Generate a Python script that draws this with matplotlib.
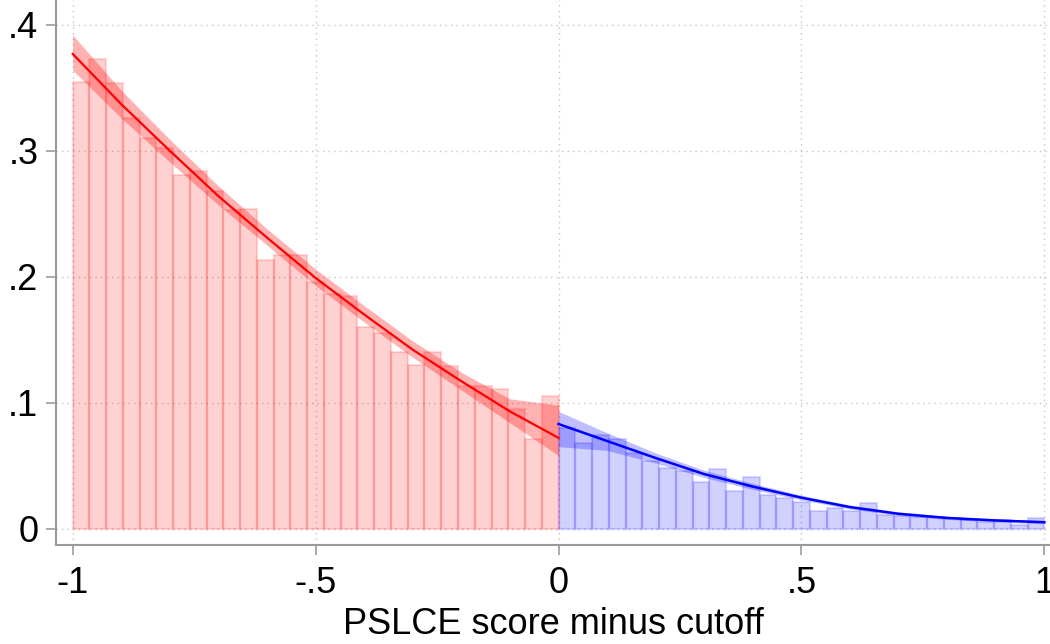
import numpy as np
import matplotlib
matplotlib.use("Agg")
import matplotlib.pyplot as plt

# ---------------- data ----------------
n_bins = 29
bin_width = 1.0 / n_bins

left_heights = [0.355, 0.373, 0.354, 0.326, 0.310, 0.302, 0.281, 0.284, 0.268, 0.253,
                0.254, 0.213, 0.217, 0.217, 0.196, 0.186, 0.185, 0.160, 0.155, 0.140,
                0.130, 0.140, 0.129, 0.113, 0.113, 0.111, 0.095, 0.071, 0.105]
right_heights = [0.080, 0.068, 0.074, 0.071, 0.060, 0.054, 0.048, 0.046, 0.037, 0.047,
                 0.030, 0.041, 0.027, 0.024, 0.021, 0.014, 0.016, 0.014, 0.020, 0.011,
                 0.010, 0.009, 0.009, 0.008, 0.007, 0.005, 0.007, 0.003, 0.008]

fit_x_left = [-1.0, -0.9, -0.8, -0.7, -0.6, -0.5, -0.4, -0.3, -0.2, -0.1, 0.0]
fit_left = [0.377, 0.337, 0.300, 0.264, 0.231, 0.199, 0.170, 0.142, 0.117, 0.093, 0.072]
ci_low_left = [0.364, 0.326, 0.291, 0.257, 0.225, 0.193, 0.164, 0.136, 0.110, 0.084, 0.058]
ci_high_left = [0.392, 0.348, 0.309, 0.272, 0.238, 0.206, 0.177, 0.149, 0.124, 0.103, 0.098]

fit_x_right = [0.0, 0.1, 0.2, 0.3, 0.4, 0.5, 0.6, 0.7, 0.8, 0.9, 1.0]
fit_right = [0.083, 0.0695, 0.056, 0.0432, 0.0333, 0.0245, 0.0170, 0.0117, 0.0084, 0.0064, 0.005]
ci_low_right = [0.065, 0.062, 0.052, 0.0405, 0.031, 0.0228, 0.0155, 0.0104, 0.0072, 0.0052, 0.0038]
ci_high_right = [0.093, 0.076, 0.060, 0.0462, 0.0358, 0.0264, 0.0186, 0.0131, 0.0097, 0.0077, 0.0064]

x_ticks = [-1, -0.5, 0, 0.5, 1]
x_tick_labels = ["-1", "-.5", "0", ".5", "1"]
y_ticks = [0, 0.1, 0.2, 0.3, 0.4]
y_tick_labels = ["0", ".1", ".2", ".3", ".4"]
x_label = "PSLCE score minus cutoff"

# ---------------- figure ----------------
plt.rcParams["font.family"] = ["Liberation Sans", "DejaVu Sans"]
fig = plt.figure(figsize=(10.5, 6.44), dpi=100)
W, H = 1050, 644
ax = fig.add_axes([56 / W, 1 - 545 / H, (W - 56) / W, 545 / H])

left_edges = -1 + np.arange(n_bins) * bin_width
right_edges = np.arange(n_bins) * bin_width

red = (1, 0, 0)
blue = (0, 0, 1)

ax.bar(left_edges, left_heights, width=bin_width, align="edge",
       color=red + (0.18,), edgecolor=red + (0.14,), linewidth=1.6, zorder=2)
ax.bar(right_edges, right_heights, width=bin_width, align="edge",
       color=blue + (0.18,), edgecolor=blue + (0.14,), linewidth=1.6, zorder=2)

ax.fill_between(fit_x_left, ci_low_left, ci_high_left, color=red, alpha=0.3,
                linewidth=0, zorder=3)
ax.fill_between(fit_x_right, ci_low_right, ci_high_right, color=blue, alpha=0.25,
                linewidth=0, zorder=3)
ax.plot(fit_x_left, fit_left, color=red, lw=1.6, zorder=4)
ax.plot(fit_x_right, fit_right, color=blue, lw=1.8, zorder=4)

ax.set_xlim(-1.0344, 1.0117)
ax.set_ylim(-0.0131, 0.4198)

ax.set_xticks(x_ticks)
ax.set_xticklabels(x_tick_labels)
ax.set_yticks(y_ticks)
ax.set_yticklabels(y_tick_labels)

ax.grid(True, color="#c4c4c4", linestyle=(0, (1, 3)), linewidth=1.0, zorder=0)
ax.set_axisbelow(True)

for s in ["top", "right"]:
    ax.spines[s].set_visible(False)
for s in ["left", "bottom"]:
    ax.spines[s].set_color("#9a9a9a")
    ax.spines[s].set_linewidth(1.5)

ax.tick_params(axis="both", colors="#9a9a9a", labelcolor="black",
               labelsize=26, length=7.2, width=1.2)
ax.tick_params(axis="y", pad=5.5)
ax.tick_params(axis="x", pad=8)

ax.set_xlabel(x_label, fontsize=26, labelpad=4)

fig.savefig("out.png", dpi=100)
